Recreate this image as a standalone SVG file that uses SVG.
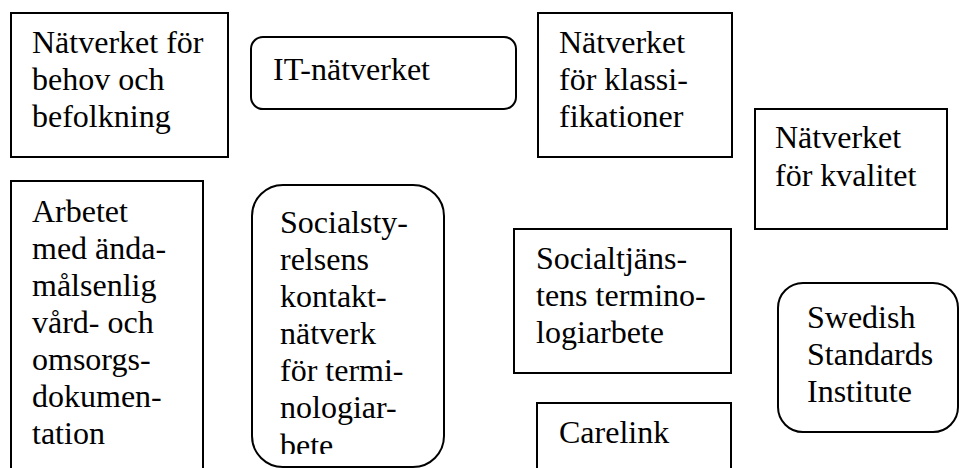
<svg xmlns="http://www.w3.org/2000/svg" width="959" height="468" viewBox="0 0 959 468">
<style>
.box{fill:#fff;stroke:#000;stroke-width:2}
text{font-family:'Liberation Serif',Tinos,'Times New Roman',Times,'Nimbus Roman','Nimbus Roman No9 L','FreeSerif','Noto Serif','DejaVu Serif',serif;font-size:32px;fill:#000}
</style>
<defs>
<clipPath id="clip6"><rect x="252" y="185" width="192" height="269"/></clipPath>
</defs>
<rect width="959" height="468" fill="#fff"/>
<g id="n1">
<rect class="box" x="11" y="13" width="217" height="144"/>
<text x="32" y="53">Nätverket för</text>
<text x="32" y="90">behov och</text>
<text x="32" y="127">befolkning</text>
</g>
<g id="n2">
<rect class="box" x="251" y="37" width="265" height="72" rx="12"/>
<text x="273" y="80">IT-nätverket</text>
</g>
<g id="n3">
<rect class="box" x="538" y="13" width="194" height="144"/>
<text x="559" y="53">Nätverket</text>
<text x="559" y="90">för klassi-</text>
<text x="559" y="127">fikationer</text>
</g>
<g id="n4">
<rect class="box" x="755" y="109" width="192" height="120"/>
<text x="775" y="148">Nätverket</text>
<text x="775" y="186">för kvalitet</text>
</g>
<g id="n5">
<rect class="box" x="11" y="181" width="192" height="300"/>
<text x="32" y="222">Arbetet</text>
<text x="32" y="259">med ända-</text>
<text x="32" y="296">målsenlig</text>
<text x="32" y="333">vård- och</text>
<text x="32" y="370">omsorgs-</text>
<text x="32" y="407">dokumen-</text>
<text x="32" y="444">tation</text>
</g>
<g id="n6">
<rect class="box" x="252" y="185" width="192" height="282" rx="31"/>
<g clip-path="url(#clip6)">
<text x="280" y="233">Socialsty-</text>
<text x="280" y="270">relsens</text>
<text x="280" y="307">kontakt-</text>
<text x="280" y="344">nätverk</text>
<text x="280" y="381">för termi-</text>
<text x="280" y="418">nologiar-</text>
<text x="280" y="456">bete</text>
</g>
</g>
<g id="n7">
<rect class="box" x="514" y="229" width="217" height="144"/>
<text x="536" y="269">Socialtjäns-</text>
<text x="536" y="306">tens termino-</text>
<text x="536" y="343">logiarbete</text>
</g>
<g id="n8">
<rect class="box" x="778" y="283" width="180" height="149" rx="25"/>
<text x="807" y="328">Swedish</text>
<text x="807" y="365">Standards</text>
<text x="807" y="402">Institute</text>
</g>
<g id="n9">
<rect class="box" x="537" y="403" width="194" height="100"/>
<text x="559" y="443">Carelink</text>
</g>
<g id="connectors"></g>
</svg>
